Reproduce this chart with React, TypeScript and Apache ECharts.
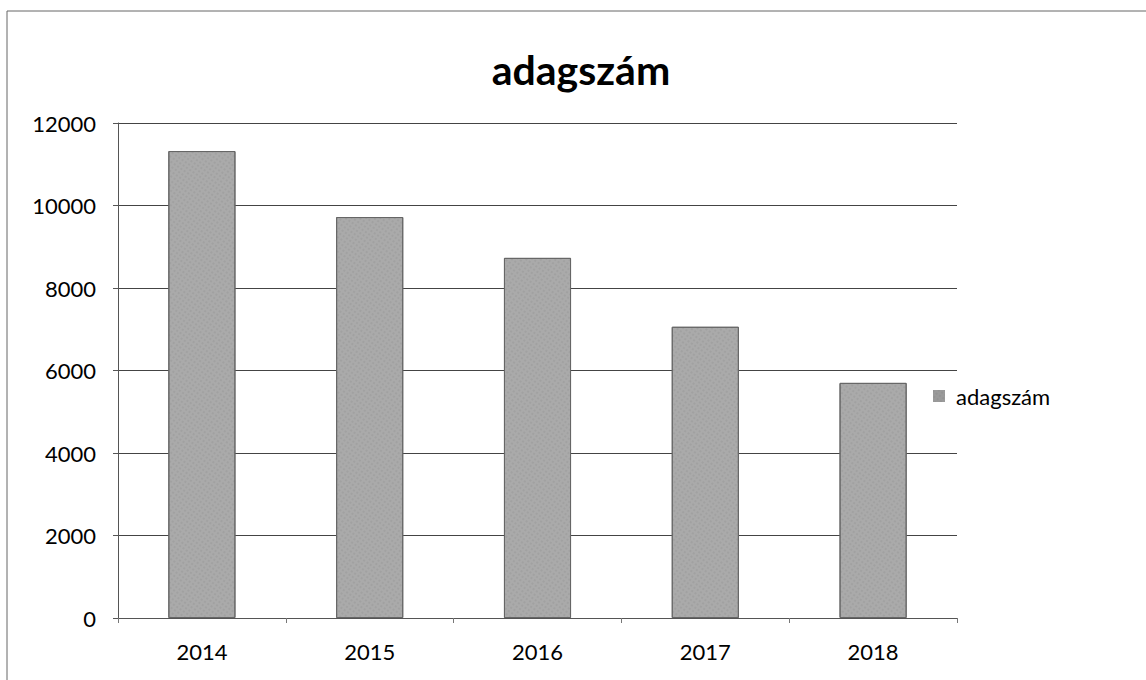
import React, { useEffect, useRef } from "react";
import * as echarts from "echarts";

const categories = ["2014", "2015", "2016", "2017", "2018"];
const values = [11320, 9720, 8730, 7060, 5700];
const seriesName = "adagszám";
const titleText = "adagszám";

export default function App() {
  const ref = useRef<HTMLDivElement>(null);
  useEffect(() => {
    document.body.style.margin = "0";
    const chart = echarts.init(ref.current!, null, { renderer: "svg" });
    const font = "Lato, 'Open Sans', sans-serif";
    chart.setOption({
      animation: false,
      backgroundColor: "#fff",
      title: {
        text: titleText,
        left: 576,
        top: 44,
        textAlign: "center",
        textStyle: { fontFamily: font, fontSize: 41, fontWeight: "bold", color: "#000" },
      },
      legend: {
        data: [seriesName],
        orient: "vertical",
        left: 928,
        top: 380,
        itemWidth: 12,
        itemHeight: 12,
        itemGap: 8,
        icon: "rect",
        itemStyle: { borderWidth: 0, color: "#9a9a9a" },
        textStyle: { fontFamily: font, fontSize: 22, color: "#000", padding: [0, 0, 0, 6] },
      },
      grid: { left: 118, right: 189, top: 123, bottom: 62, containLabel: false },
      xAxis: {
        type: "category",
        data: categories,
        axisLine: { lineStyle: { color: "#555", width: 1 } },
        axisTick: { show: true, length: 5, lineStyle: { color: "#777" } },
        axisLabel: { fontFamily: font, fontSize: 22, color: "#000", margin: 22 },
      },
      yAxis: {
        type: "value",
        min: 0,
        max: 12000,
        interval: 2000,
        axisLine: { show: true, lineStyle: { color: "#555", width: 1 } },
        axisTick: { show: true, length: 5, lineStyle: { color: "#555" } },
        axisLabel: {
          fontFamily: font,
          fontSize: 22,
          color: "#000",
          margin: 22,
          formatter: (v: number) => String(v),
        },
        splitLine: { lineStyle: { color: "#444", width: 1 } },
      },
      series: [
        {
          name: seriesName,
          type: "bar",
          data: values,
          barWidth: "40%",
          itemStyle: {
            color: "#aaaaaa",
            borderColor: "#666",
            borderWidth: 1,
            decal: {
              symbol: "rect",
              symbolSize: 0.6,
              color: "rgba(80,80,80,0.35)",
              dashArrayX: [2, 2],
              dashArrayY: [2, 2],
              rotation: 0.6,
            },
          },
        },
      ],
      graphic: [
        {
          type: "rect",
          shape: { x: 7, y: 11, width: 1146, height: 700 },
          style: { fill: "none", stroke: "#666", lineWidth: 1 },
          silent: true,
        },
      ],
    });
    return () => chart.dispose();
  }, []);
  return <div ref={ref} style={{ width: 1146, height: 680 }} />;
}
